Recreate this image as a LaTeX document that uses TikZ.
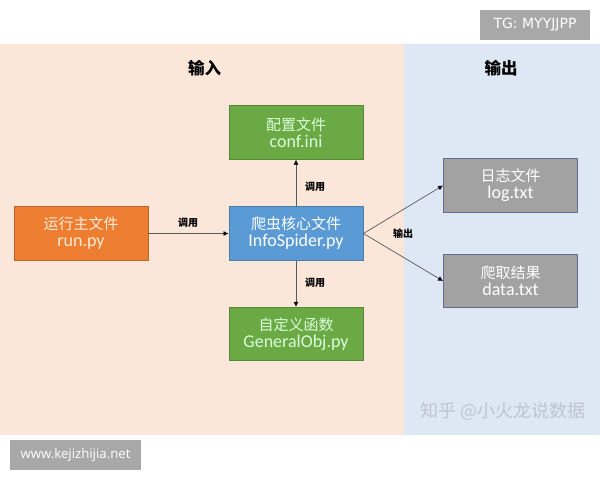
\documentclass[tikz,border=0pt]{standalone}
\usepackage{fontspec}
\setmainfont{Noto Sans CJK SC}
\newfontfamily\latinf{Carlito}
\newfontfamily\tagf{DejaVu Sans}
\newfontfamily\wwwf{Open Sans}
\usetikzlibrary{arrows.meta}
\definecolor{panelA}{HTML}{FBE6DA}
\definecolor{panelB}{HTML}{DEE8F5}
\definecolor{cOrange}{HTML}{ED7D31}
\definecolor{cBlue}{HTML}{5B9BD5}
\definecolor{cGreen}{HTML}{6BA945}
\definecolor{cGrey}{HTML}{A2A2A2}
\definecolor{cTag}{HTML}{A8A8A8}
\definecolor{cMark}{HTML}{BCC5D0}
\tikzset{
  panel/.style={draw=none,inner sep=0pt,anchor=north west},
  fbox/.style={minimum width=134pt,minimum height=53.5pt,inner sep=0pt,line width=0.9pt,align=center,text=white,font=\fontsize{15}{18}\selectfont},
  fgreen/.style={fbox,fill=cGreen,draw=cGreen!80!black,text=white!85!green},
  fblue/.style={fbox,fill=cBlue,draw=cBlue!80!black},
  forange/.style={fbox,fill=cOrange,draw=cOrange!80!black,text=white!85!orange},
  fgrey/.style={fbox,fill=cGrey,draw=cGrey!80!blue!80!black},
  head/.style={font=\fontsize{16.5}{18}\selectfont\bfseries,text=black},
  small/.style={font=\fontsize{10}{11}\selectfont\bfseries,text=black},
  conn/.style={draw=black!65,line width=0.7pt,-{Latex[length=5pt,width=5pt,black]}},
  tag/.style={fill=cTag,text=white,inner sep=0pt}
}
\begin{document}
\begin{tikzpicture}[x=1pt,y=-1pt]
\useasboundingbox (0,0) rectangle (600,480);
\fill[white] (0,0) rectangle (600,480);
\fill[panelA] (0,43.5) rectangle (404,435);
\fill[panelB] (404,43.5) rectangle (600,435);
\node[head] (h1) at (204.5,68.5) {输入};
\node[head] (h2) at (501,68.5) {输出};
\node[fgreen] (conf) at (296,132.5) {配置文件\\[-1pt]{\latinf\fontsize{18}{18}\selectfont conf.ini}};
\node[fblue] (core) at (296,233.5) {爬虫核心文件\\[-1pt]{\latinf\fontsize{18}{18}\selectfont InfoSpider.py}};
\node[forange] (run) at (81,233.5) {运行主文件\\[-1pt]{\latinf\fontsize{18}{18}\selectfont run.py}};
\node[fgreen] (gen) at (296,334) {自定义函数\\[-1pt]{\latinf\fontsize{18}{18}\selectfont GeneralObj.py}};
\node[fgrey] (log) at (510.5,185.5) {日志文件\\[-1pt]{\latinf\fontsize{18}{18}\selectfont log.txt}};
\node[fgrey] (data) at (510.5,281) {爬取结果\\[-1pt]{\latinf\fontsize{18}{18}\selectfont data.txt}};
\draw[conn] (run.east) -- (core.west);
\draw[conn] (core.north) -- (conf.south);
\draw[conn] (core.south) -- (gen.north);
\draw[conn] (core.east) -- (log.west);
\draw[conn] (core.east) -- (data.west);
\node[small] (l1) at (188,222.5) {调用};
\node[small] (l2) at (315,186.5) {调用};
\node[small] (l3) at (315,282.5) {调用};
\node[small] (l4) at (403,233.5) {输出};
\node[font=\fontsize{18}{20}\selectfont,text=cMark] (wm) at (503,411) {知乎 @小火龙说数据};
\node[tag,minimum width=110pt,minimum height=30pt,font=\tagf\fontsize{14}{14}\selectfont] (tg) at (535,25) {TG: MYYJJPP};
\node[tag,minimum width=131pt,minimum height=30pt,font=\wwwf\fontsize{13.2}{14}\selectfont] (www) at (75.5,455) {www.kejizhijia.net};
\end{tikzpicture}
\end{document}
